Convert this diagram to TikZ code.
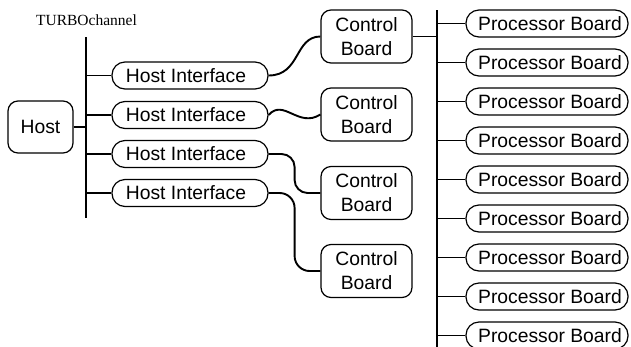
\documentclass[tikz,border=0pt]{standalone}
\usepackage{fontspec}
\setmainfont{Liberation Sans}
\newfontfamily\serifname{Liberation Serif}
\begin{document}
\begin{tikzpicture}[x=1pt,y=-1pt,
  box/.style={draw,line width=1.2pt,inner sep=0pt,font=\fontsize{19.3}{24}\selectfont,align=center},
  pill/.style={box,rounded corners=13pt,minimum height=27pt},
  hostbox/.style={box,rounded corners=10pt,minimum width=65pt,minimum height=52pt},
  ctrlbox/.style={box,rounded corners=10pt,minimum width=91pt,minimum height=53pt},
  hibox/.style={pill,minimum width=156pt},
  pbbox/.style={pill,minimum width=162pt},
  bus/.style={line width=2.6pt},
  wire/.style={line width=1.9pt}]
\useasboundingbox (0,0) rectangle (631,346);
\clip (0,0) rectangle (631,346);
% label
\node[anchor=base,inner sep=0pt,font=\serifname\fontsize{15.5}{18}\selectfont] (tc) at (86.5,25) {TURBOchannel};
% buses
\coordinate (b1top) at (86,37);
\coordinate (b1bot) at (86,218);
\coordinate (b2top) at (437,10);
\coordinate (b2bot) at (437,350);
\draw[bus] (b1top) -- (b1bot);
\draw[bus] (b2top) -- (b2bot);
% host
\node[hostbox] (host) at (40.5,127) {Host};
% host interfaces
\node[hibox] (hi1) at (190,75.5) {\hspace*{-8pt}Host Interface};
\node[hibox] (hi2) at (190,115) {\hspace*{-8pt}Host Interface};
\node[hibox] (hi3) at (190,154) {\hspace*{-8pt}Host Interface};
\node[hibox] (hi4) at (190,193) {\hspace*{-8pt}Host Interface};
% control boards
\node[ctrlbox] (cb1) at (366.5,36.5) {Control\\Board};
\node[ctrlbox] (cb2) at (366.5,114.5) {Control\\Board};
\node[ctrlbox] (cb3) at (366.5,193) {Control\\Board};
\node[ctrlbox] (cb4) at (366.5,271) {Control\\Board};
% processor boards
\foreach \i in {0,...,8}{
  \node[pbbox] (pb\i) at (547,{23.5+39.0*\i}) {\hspace*{6pt}Processor Board};
  \draw[wire] (pb\i.west) -- (pb\i.west -| b2top);
}
% stubs
\draw[wire] (host.east) -- (host.east -| b1top);
\foreach \n in {hi1,hi2,hi3,hi4}{
  \draw[wire] (\n.west) -- (\n.west -| b1top);
}
\draw[wire] (cb1.east) -- (cb1.east -| b2top);
% cables
\draw[wire] (hi1.east) .. controls +(32,0) and +(-26,0) .. (cb1.west);
\draw[wire] (hi2.east) .. controls +(15,-17) and +(-22,14) .. (cb2.west);
\draw[wire,rounded corners=13pt] (hi3.east) -- ++(26,0) |- (cb3.west);
\draw[wire,rounded corners=15pt] (hi4.east) -- ++(26,0) |- (cb4.west);
\end{tikzpicture}
\end{document}
